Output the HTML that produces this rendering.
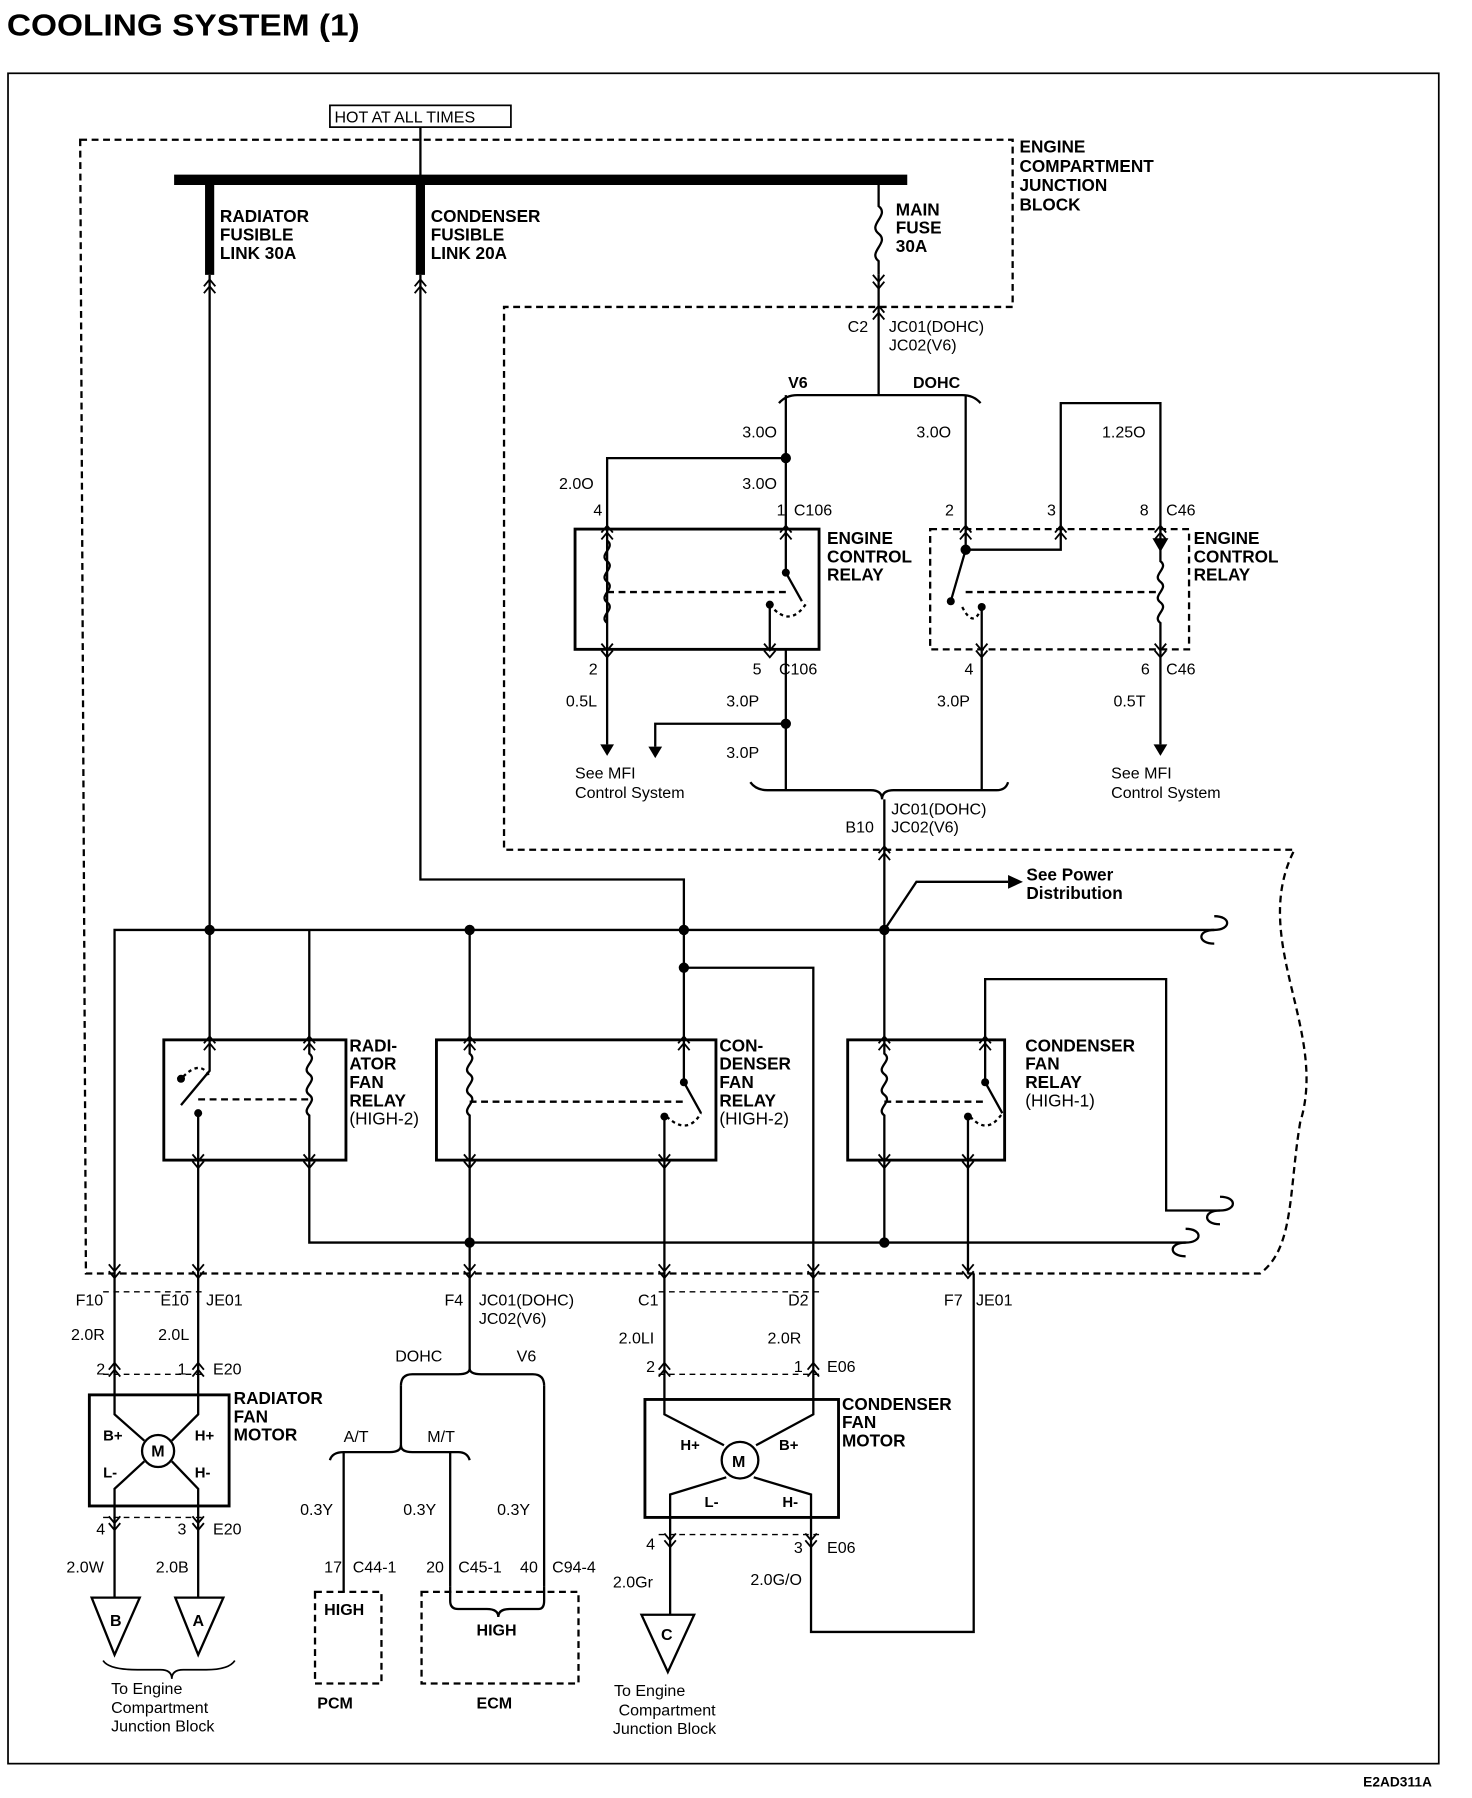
<!DOCTYPE html>
<html><head><meta charset="utf-8"><style>
html,body{margin:0;padding:0;background:#fff}
svg{display:block}
text{font-family:"Liberation Sans",sans-serif;fill:#000}
.b{font-weight:bold}
</style></head><body>
<svg width="1472" height="1798" viewBox="0 0 1285 1570" preserveAspectRatio="none" xmlns="http://www.w3.org/2000/svg">
<defs>
<g id="cd"><path d="M-5,-6 L0,0 L5,-6 M-5,0 L0,6 L5,0" fill="none" stroke="#000" stroke-width="1.6"/></g>
<g id="cu"><path d="M-5,6 L0,0 L5,6 M-5,0 L0,-6 L5,0" fill="none" stroke="#000" stroke-width="1.6"/></g>
</defs>
<g fill="none" stroke="#000" stroke-width="2">
<rect x="7" y="64" width="1249" height="1476" stroke-width="1.5"/>
<rect x="288" y="92" width="158" height="19" stroke-width="1.5"/>
<line x1="367" y1="111" x2="367" y2="157"/>
<path d="M70,122 L884,122 L884,268 L440,268 L440,742 L1130,742 C1090,820 1160,900 1135,980 C1125,1040 1130,1090 1100,1112 L75,1112 Z" stroke-dasharray="6,4"/>
<line x1="152" y1="157" x2="792" y2="157" stroke-width="9"/>
<line x1="183" y1="160" x2="183" y2="240" stroke-width="8"/>
<line x1="367" y1="160" x2="367" y2="240" stroke-width="8"/>
<path d="M767,160 L767,180 C777,188 757,196 767,204 C777,212 757,220 767,228 L767,240"/>
<line x1="183" y1="240" x2="183" y2="908"/>
<path d="M367,240 L367,768 L597,768 L597,908"/>
<path d="M597,845 L710,845 L710,1112"/>
<line x1="767" y1="240" x2="767" y2="345"/>
<path d="M680,352 Q686,345 696,345 L840,345 Q850,345 856,352"/>
<line x1="686" y1="345" x2="686" y2="462"/>
<path d="M686,400 L530,400 L530,462"/>
<line x1="843" y1="345" x2="843" y2="462"/>
<path d="M926,462 L926,352 L1013,352 L1013,462"/>
<rect x="502" y="462" width="213" height="105" stroke-width="2.5"/>
<line x1="530" y1="462" x2="530" y2="567"/>
<path d="M686,462 L686,500 M686,500 L700,525 M672,528 L672,567"/>
<path d="M672,528 Q690,550 705,525" stroke-dasharray="3,3"/>
<path d="M530,472 c8,6 -8,12 0,18 c8,6 -8,12 0,18 c8,6 -8,12 0,18 c8,6 -8,12 0,18" />
<line x1="530" y1="517" x2="686" y2="517" stroke-dasharray="6,4"/>
<rect x="812" y="462" width="226" height="105" stroke-dasharray="6,4"/>
<path d="M843,462 L843,480 L926,480 L926,462"/>
<path d="M843,480 L830,525 M857,530 L857,567"/>
<path d="M840,530 Q850,550 857,530" stroke-dasharray="3,3"/>
<path d="M1013,462 L1013,490 c8,6 -8,12 0,18 c8,6 -8,12 0,18 c8,6 -8,12 0,18 L1013,567"/>
<line x1="843" y1="517" x2="1013" y2="517" stroke-dasharray="6,4"/>
<line x1="530" y1="567" x2="530" y2="650"/>
<path d="M686,567 L686,632 L572,632 L572,652"/>
<line x1="686" y1="632" x2="686" y2="690"/>
<line x1="857" y1="567" x2="857" y2="690"/>
<line x1="1013" y1="567" x2="1013" y2="650"/>
<path d="M655,683 Q660,690 670,690 L760,690 Q770,690 770,698 Q770,690 780,690 L870,690 Q878,690 880,683"/>
<line x1="772" y1="698" x2="772" y2="908"/>
<path d="M772,812 L800,770 L880,770"/>
<path d="M100,1112 L100,812 L1060,812"/>
<path d="M1060,800 c15,0 15,12 0,12 c-15,0 -15,12 0,12"/>
<path d="M270,908 L270,812"/>
<line x1="410" y1="812" x2="410" y2="908"/>
<rect x="143" y="908" width="159" height="105" stroke-width="2.5"/>
<rect x="381" y="908" width="244" height="105" stroke-width="2.5"/>
<rect x="740" y="908" width="137" height="105" stroke-width="2.5"/>
<path d="M183,908 L183,935 L158,965 M173,972 L173,1013"/>
<path d="M160,940 Q175,925 183,940" stroke-dasharray="3,3"/>
<path d="M270,908 L270,920 c8,6 -8,12 0,18 c8,6 -8,12 0,18 c8,6 -8,12 0,18 L270,1013"/>
<line x1="173" y1="960" x2="270" y2="960" stroke-dasharray="6,4"/>
<path d="M410,908 L410,920 c8,6 -8,12 0,18 c8,6 -8,12 0,18 c8,6 -8,12 0,18 L410,1013"/>
<path d="M597,908 L597,945 L612,972 M580,975 L580,1013"/>
<path d="M582,975 Q600,992 612,972" stroke-dasharray="3,3"/>
<line x1="410" y1="962" x2="597" y2="962" stroke-dasharray="6,4"/>
<path d="M772,908 L772,920 c8,6 -8,12 0,18 c8,6 -8,12 0,18 c8,6 -8,12 0,18 L772,1013"/>
<path d="M860,908 L860,945 L875,972 M845,975 L845,1013"/>
<path d="M847,975 Q862,992 875,972" stroke-dasharray="3,3"/>
<line x1="772" y1="962" x2="860" y2="962" stroke-dasharray="6,4"/>
<path d="M860,908 L860,855 L1018,855 L1018,1057 L1065,1057"/>
<path d="M1065,1045 c15,0 15,12 0,12 c-15,0 -15,12 0,12"/>
<path d="M270,1013 L270,1085 L1035,1085"/>
<path d="M1035,1073 c15,0 15,12 0,12 c-15,0 -15,12 0,12"/>
<line x1="410" y1="1013" x2="410" y2="1112"/>
<line x1="772" y1="1013" x2="772" y2="1085"/>
<line x1="173" y1="1013" x2="173" y2="1112"/>
<line x1="580" y1="1013" x2="580" y2="1112"/>
<line x1="845" y1="1013" x2="845" y2="1112"/>
<line x1="100" y1="1112" x2="100" y2="1218"/>
<line x1="173" y1="1112" x2="173" y2="1218"/>
<path d="M90,1128 L180,1128" stroke-dasharray="5,4" stroke-width="1.2"/>
<path d="M90,1200 L180,1200" stroke-dasharray="5,4" stroke-width="1.2"/>
<rect x="78" y="1218" width="122" height="97" stroke-width="2.5"/>
<circle cx="138" cy="1267" r="14"/>
<path d="M100,1218 L100,1235 L126,1258 M173,1218 L173,1235 L150,1258 M126,1276 L100,1300 L100,1315 M150,1276 L173,1300 L173,1315"/>
<line x1="100" y1="1315" x2="100" y2="1395"/>
<line x1="173" y1="1315" x2="173" y2="1395"/>
<path d="M90,1325 L180,1325" stroke-dasharray="5,4" stroke-width="1.2"/>
<path d="M80,1395 L122,1395 L100,1445 Z"/>
<path d="M153,1395 L195,1395 L173,1445 Z"/>
<path d="M90,1450 Q95,1458 120,1458 L140,1458 Q150,1458 150,1466 Q150,1458 160,1458 L180,1458 Q200,1458 205,1450" stroke-width="1.5"/>
<line x1="410" y1="1112" x2="410" y2="1195"/>
<path d="M350,1210 Q350,1200 360,1200 L400,1200 Q410,1200 410,1195 Q410,1200 420,1200 L465,1200 Q475,1200 475,1210"/>
<line x1="350" y1="1210" x2="350" y2="1265"/>
<line x1="475" y1="1210" x2="475" y2="1385"/>
<path d="M288,1275 Q290,1268 300,1268 L340,1268 Q350,1268 350,1262 Q350,1268 360,1268 L400,1268 Q408,1268 410,1275"/>
<line x1="300" y1="1268" x2="300" y2="1390"/>
<line x1="393" y1="1268" x2="393" y2="1385"/>
<rect x="275" y="1390" width="58" height="80" stroke-dasharray="6,4"/>
<rect x="368" y="1390" width="137" height="80" stroke-dasharray="6,4"/>
<path d="M393,1385 L393,1398 Q393,1405 400,1405 L425,1405 Q435,1405 435,1412 Q435,1405 445,1405 L470,1405 Q475,1405 475,1398 L475,1385"/>
<line x1="580" y1="1112" x2="580" y2="1222"/>
<line x1="710" y1="1112" x2="710" y2="1222"/>
<path d="M575,1128 L715,1128" stroke-dasharray="5,4" stroke-width="1.2"/>
<path d="M575,1200 L715,1200" stroke-dasharray="5,4" stroke-width="1.2"/>
<rect x="563" y="1222" width="169" height="103" stroke-width="2.5"/>
<circle cx="646" cy="1275" r="16"/>
<path d="M580,1222 L580,1235 L632,1262 M710,1222 L710,1235 L660,1262 M634,1290 L585,1305 L585,1325 M658,1290 L708,1305 L708,1325"/>
<line x1="585" y1="1325" x2="585" y2="1410"/>
<path d="M708,1325 L708,1425 L850,1425 L850,1112"/>
<path d="M575,1340 L715,1340" stroke-dasharray="5,4" stroke-width="1.2"/>
<path d="M560,1410 L606,1410 L583,1460 Z"/>
</g>
<g fill="#000">
<circle cx="686" cy="400" r="4.5"/><circle cx="686" cy="632" r="4.5"/>
<circle cx="843" cy="480" r="4.5"/>
<circle cx="183" cy="812" r="4.5"/><circle cx="410" cy="812" r="4.5"/><circle cx="597" cy="812" r="4.5"/><circle cx="772" cy="812" r="4.5"/>
<circle cx="597" cy="845" r="4.5"/>
<circle cx="410" cy="1085" r="4.5"/><circle cx="772" cy="1085" r="4.5"/>
<circle cx="158" cy="942" r="3.5"/><circle cx="173" cy="972" r="3.5"/>
<circle cx="686" cy="500" r="3.5"/><circle cx="672" cy="528" r="3.5"/>
<circle cx="597" cy="945" r="3.5"/><circle cx="580" cy="975" r="3.5"/>
<circle cx="860" cy="945" r="3.5"/><circle cx="845" cy="975" r="3.5"/>
<circle cx="830" cy="525" r="3.5"/><circle cx="857" cy="530" r="3.5"/>
<path d="M880,764 L893,770 L880,776 Z"/>
<path d="M524,650 L536,650 L530,660 Z"/><path d="M566,652 L578,652 L572,662 Z"/><path d="M1007,650 L1019,650 L1013,660 Z"/>
<path d="M1006,470 L1020,470 L1013,482 Z"/>
</g>
<g>
<use href="#cu" x="183" y="250"/><use href="#cu" x="367" y="250"/><use href="#cd" x="767" y="246"/>
<use href="#cu" x="767" y="273"/>
<use href="#cu" x="530" y="465"/><use href="#cu" x="686" y="465"/><use href="#cd" x="530" y="568"/><use href="#cd" x="672" y="568"/>
<use href="#cu" x="843" y="465"/><use href="#cu" x="926" y="465"/><use href="#cu" x="1013" y="465"/><use href="#cd" x="857" y="568"/><use href="#cd" x="1013" y="568"/>
<use href="#cu" x="772" y="745"/>
<use href="#cu" x="183" y="911"/><use href="#cu" x="270" y="911"/><use href="#cd" x="173" y="1014"/><use href="#cd" x="270" y="1014"/>
<use href="#cu" x="410" y="911"/><use href="#cu" x="597" y="911"/><use href="#cd" x="410" y="1014"/><use href="#cd" x="580" y="1014"/>
<use href="#cu" x="772" y="911"/><use href="#cu" x="860" y="911"/><use href="#cd" x="772" y="1014"/><use href="#cd" x="845" y="1014"/>
<use href="#cd" x="100" y="1110"/><use href="#cd" x="173" y="1110"/><use href="#cd" x="410" y="1110"/><use href="#cd" x="580" y="1110"/><use href="#cd" x="710" y="1110"/><use href="#cd" x="845" y="1110"/>
<use href="#cu" x="100" y="1196"/><use href="#cu" x="173" y="1196"/><use href="#cd" x="100" y="1330"/><use href="#cd" x="173" y="1330"/>
<use href="#cu" x="580" y="1196"/><use href="#cu" x="710" y="1196"/><use href="#cd" x="585" y="1345"/><use href="#cd" x="708" y="1345"/>
</g>
<text x="6" y="31" font-size="27" class="b" textLength="308" lengthAdjust="spacingAndGlyphs">COOLING SYSTEM (1)</text>
<text x="292" y="107" font-size="14">HOT AT ALL TIMES</text>
<g font-size="15" class="b">
<text x="890" y="133">ENGINE</text><text x="890" y="150">COMPARTMENT</text><text x="890" y="167">JUNCTION</text><text x="890" y="184">BLOCK</text>
<text x="192" y="194">RADIATOR</text><text x="192" y="210">FUSIBLE</text><text x="192" y="226">LINK 30A</text>
<text x="376" y="194">CONDENSER</text><text x="376" y="210">FUSIBLE</text><text x="376" y="226">LINK 20A</text>
<text x="782" y="188">MAIN</text><text x="782" y="204">FUSE</text><text x="782" y="220">30A</text>
<text x="722" y="475">ENGINE</text><text x="722" y="491">CONTROL</text><text x="722" y="507">RELAY</text>
<text x="1042" y="475">ENGINE</text><text x="1042" y="491">CONTROL</text><text x="1042" y="507">RELAY</text>
<text x="896" y="769">See Power</text><text x="896" y="785">Distribution</text>
<text x="305" y="918">RADI-</text><text x="305" y="934">ATOR</text><text x="305" y="950">FAN</text><text x="305" y="966">RELAY</text><text x="305" y="982" font-weight="normal">(HIGH-2)</text>
<text x="628" y="918">CON-</text><text x="628" y="934">DENSER</text><text x="628" y="950">FAN</text><text x="628" y="966">RELAY</text><text x="628" y="982" font-weight="normal">(HIGH-2)</text>
<text x="895" y="918">CONDENSER</text><text x="895" y="934">FAN</text><text x="895" y="950">RELAY</text><text x="895" y="966" font-weight="normal">(HIGH-1)</text>
<text x="204" y="1226">RADIATOR</text><text x="204" y="1242">FAN</text><text x="204" y="1258">MOTOR</text>
<text x="735" y="1231">CONDENSER</text><text x="735" y="1247">FAN</text><text x="735" y="1263">MOTOR</text>
<text x="90" y="1258" font-size="13">B+</text><text x="170" y="1258" font-size="13">H+</text><text x="90" y="1290" font-size="13">L-</text><text x="170" y="1290" font-size="13">H-</text>
<text x="132" y="1272" font-size="14">M</text><text x="639" y="1281" font-size="14">M</text>
<text x="594" y="1266" font-size="13">H+</text><text x="680" y="1266" font-size="13">B+</text><text x="615" y="1316" font-size="13">L-</text><text x="683" y="1316" font-size="13">H-</text>
<text x="96" y="1420" font-size="14">B</text><text x="168" y="1420" font-size="14">A</text><text x="577" y="1432" font-size="14">C</text>
</g>
<g font-size="14">
<text x="740" y="290">C2</text><text x="776" y="290">JC01(DOHC)</text><text x="776" y="306">JC02(V6)</text>
<text x="688" y="339" class="b">V6</text><text x="797" y="339" class="b">DOHC</text>
<text x="648" y="382">3.0O</text><text x="800" y="382">3.0O</text><text x="962" y="382">1.25O</text>
<text x="488" y="427">2.0O</text><text x="648" y="427">3.0O</text>
<text x="518" y="450">4</text><text x="678" y="450">1</text><text x="693" y="450">C106</text>
<text x="825" y="450">2</text><text x="914" y="450">3</text><text x="995" y="450">8</text><text x="1018" y="450">C46</text>
<text x="514" y="589">2</text><text x="657" y="589">5</text><text x="680" y="589">C106</text>
<text x="842" y="589">4</text><text x="996" y="589">6</text><text x="1018" y="589">C46</text>
<text x="494" y="617">0.5L</text><text x="634" y="617">3.0P</text><text x="818" y="617">3.0P</text><text x="972" y="617">0.5T</text>
<text x="634" y="662">3.0P</text>
<text x="502" y="680">See MFI</text><text x="502" y="697">Control System</text>
<text x="970" y="680">See MFI</text><text x="970" y="697">Control System</text>
<text x="778" y="711">JC01(DOHC)</text><text x="778" y="727">JC02(V6)</text><text x="738" y="727">B10</text>
<text x="66" y="1140">F10</text><text x="140" y="1140">E10</text><text x="180" y="1140">JE01</text>
<text x="388" y="1140">F4</text><text x="418" y="1140">JC01(DOHC)</text><text x="418" y="1156">JC02(V6)</text>
<text x="557" y="1140">C1</text><text x="688" y="1140">D2</text><text x="824" y="1140">F7</text><text x="852" y="1140">JE01</text>
<text x="62" y="1170">2.0R</text><text x="138" y="1170">2.0L</text><text x="540" y="1173">2.0LI</text><text x="670" y="1173">2.0R</text>
<text x="84" y="1200">2</text><text x="155" y="1200">1</text><text x="186" y="1200">E20</text>
<text x="564" y="1198">2</text><text x="693" y="1198">1</text><text x="722" y="1198">E06</text>
<text x="345" y="1189">DOHC</text><text x="451" y="1189">V6</text>
<text x="300" y="1259">A/T</text><text x="373" y="1259">M/T</text>
<text x="262" y="1323">0.3Y</text><text x="352" y="1323">0.3Y</text><text x="434" y="1323">0.3Y</text>
<text x="283" y="1373">17</text><text x="308" y="1373">C44-1</text><text x="372" y="1373">20</text><text x="400" y="1373">C45-1</text><text x="454" y="1373">40</text><text x="482" y="1373">C94-4</text>
<text x="283" y="1410" class="b">HIGH</text><text x="416" y="1428" class="b">HIGH</text>
<text x="277" y="1492" class="b">PCM</text><text x="416" y="1492" class="b">ECM</text>
<text x="84" y="1340">4</text><text x="155" y="1340">3</text><text x="186" y="1340">E20</text>
<text x="58" y="1373">2.0W</text><text x="136" y="1373">2.0B</text>
<text x="564" y="1353">4</text><text x="693" y="1356">3</text><text x="722" y="1356">E06</text>
<text x="535" y="1386">2.0Gr</text><text x="655" y="1384">2.0G/O</text>
<text x="97" y="1479">To Engine</text><text x="97" y="1496">Compartment</text><text x="97" y="1512">Junction Block</text>
<text x="536" y="1481">To Engine</text><text x="540" y="1498">Compartment</text><text x="535" y="1514">Junction Block</text>
<text x="1190" y="1560" font-size="12" class="b">E2AD311A</text>
</g>
</svg>
</body></html>
